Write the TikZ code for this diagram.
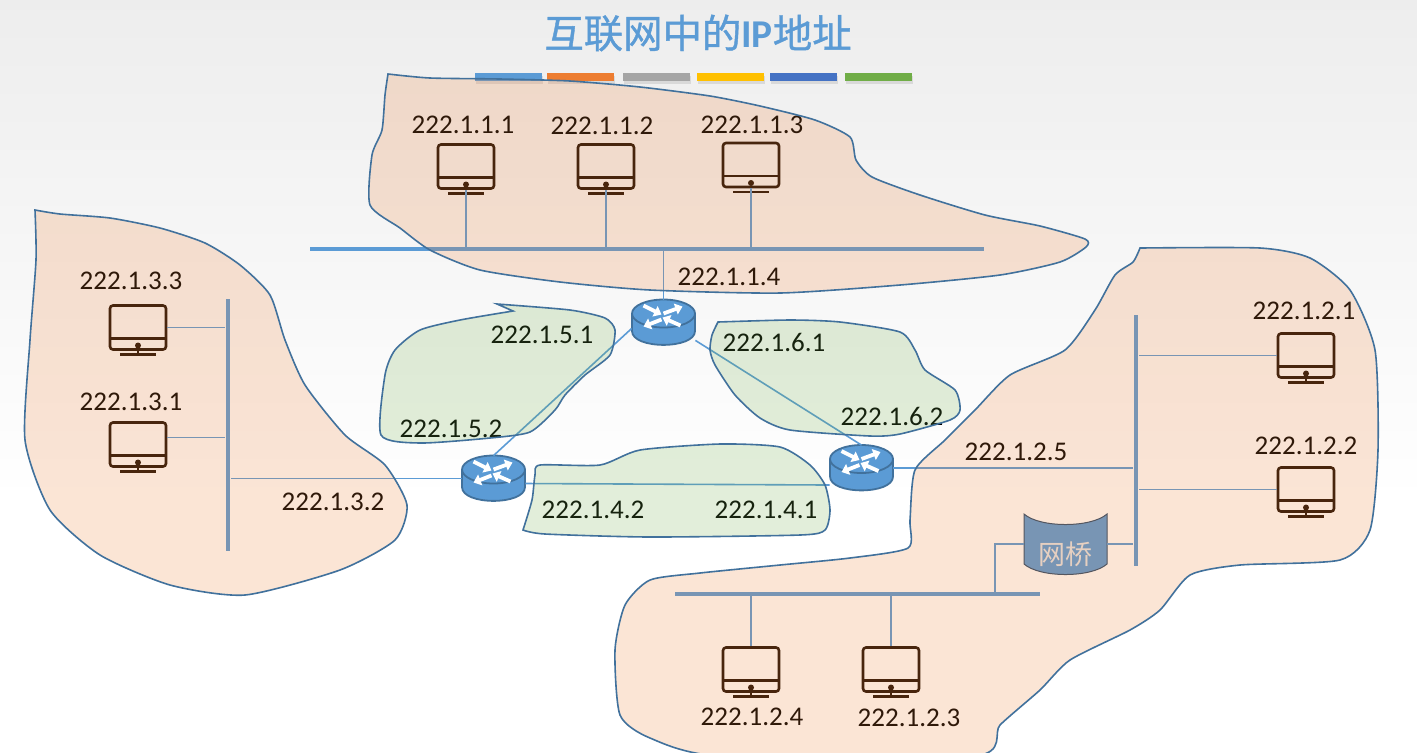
\documentclass[tikz,border=0pt]{standalone}
\usepackage{fontspec}
\setmainfont{Carlito}
\newfontfamily\cjkfont{Noto Sans CJK SC}
\newfontfamily\titlefont[FakeBold=1]{Noto Sans CJK SC}
\usetikzlibrary{arrows.meta,shadows}
\definecolor{linkblue}{HTML}{5B9BD5}
\definecolor{edgeblue}{HTML}{41719C}
\definecolor{pcbrown}{HTML}{1F0F04}
\definecolor{netorange}{HTML}{ED7D31}
\definecolor{netgreen}{HTML}{70AD47}
\definecolor{bargray}{HTML}{A5A5A5}
\definecolor{baryellow}{HTML}{FFC000}
\definecolor{barblue}{HTML}{4472C4}
\tikzset{
  addr/.style={font=\fontsize{13.5}{16}\selectfont, inner sep=0pt},
  link/.style={linkblue, line width=0.8pt},
  bus/.style={fill=linkblue, inner sep=0pt},
  colorbar/.style={minimum width=33.5pt, minimum height=4pt, inner sep=0pt, drop shadow={shadow xshift=0.4pt, shadow yshift=-1.5pt, opacity=0.2}},
  orangenet/.style={draw=edgeblue, line width=0.8pt, fill=netorange, fill opacity=0.2},
  greennet/.style={draw=edgeblue, line width=0.8pt, fill=netgreen, fill opacity=0.2},
  pcbox/.style={draw=pcbrown, line width=1.3pt, rounded corners=1.5pt, minimum width=28pt, minimum height=22pt, inner sep=0pt},
  rbox/.style={minimum width=31.5pt, minimum height=22.5pt, inner sep=0pt},
  rarrow/.style={white, line width=1.9pt, -{Triangle[length=3.6pt,width=5.6pt]}},
  pc/.pic={
    \node[pcbox] (-s) {};
    \draw[pcbrown, line width=1.2pt] (-28,11) -- (28,11);
    \fill[pcbrown] (0,18) circle (3);
    \draw[pcbrown, line width=1.2pt] (0,23) -- (0,27);
    \draw[pcbrown, line width=1.2pt] (-18,27) -- (18,27);
  },
  router/.pic={
    \node[rbox] (-r) {};
    \draw[fill=linkblue, draw=edgeblue, line width=0.9pt] (-31.5,-9) -- (-31.5,8.5) .. controls (-31.5,27) and (31.5,27) .. (31.5,8.5) -- (31.5,-9);
    \draw[fill=linkblue, draw=edgeblue, line width=0.9pt] (0,-9) ellipse [x radius=15.75pt, y radius=7pt];
    \draw[rarrow] (-20,-17) -- (-2,-8);
    \draw[rarrow] (0,-9) -- (19,-16);
    \draw[rarrow] (-2,-3) -- (-20,4);
    \draw[rarrow] (17,3) -- (-1,-5);
  },
}
\begin{document}
\begin{tikzpicture}[x=0.5pt, y=-0.5pt]
  \useasboundingbox (0,0) rectangle (1417,752);
  \fill[white] (0,0) rectangle (1417,752);
  \shade[top color=black!7, bottom color=white] (0,0) rectangle (1417,500);

  \node[font=\fontsize{19.7}{24}\selectfont, text=linkblue, inner sep=0pt] (title) at (698,33) {{\titlefont 互联网中的}{\bfseries IP}{\titlefont 地址}};
  \node[colorbar, fill=linkblue] (c1) at (508.5,77) {};
  \node[colorbar, fill=netorange] (c2) at (580.5,77) {};
  \node[colorbar, fill=bargray] (c3) at (656.5,77) {};
  \node[colorbar, fill=baryellow] (c4) at (730.5,77) {};
  \node[colorbar, fill=barblue] (c5) at (803.5,77) {};
  \node[colorbar, fill=netgreen] (c6) at (878.5,77) {};

  \node[bus, minimum width=337pt, minimum height=2pt] (bus1) at (647,249) {};
  \node[bus, minimum width=2.4pt, minimum height=125.5pt] (bus2) at (1136,440.5) {};
  \node[bus, minimum width=2.4pt, minimum height=126pt] (bus3) at (228,425) {};
  \node[bus, minimum width=182.5pt, minimum height=2pt] (bus4) at (857.5,594) {};
  \coordinate (tap) at (995,594);

  \pic (p111) at (466,166.5) {pc};
  \pic (p112) at (606,166.5) {pc};
  \pic (p113) at (751,165) {pc};
  \pic (p133) at (138,327.5) {pc};
  \pic (p131) at (138,444.5) {pc};
  \pic (p121) at (1306,355.5) {pc};
  \pic (p122) at (1306,489.5) {pc};
  \pic (p124) at (751,669.5) {pc};
  \pic (p123) at (891,669.5) {pc};

  \pic (r1) at (663.5,322.5) {router};
  \pic (r2) at (493.5,478.5) {router};
  \pic (r3) at (861.5,468) {router};

  \draw[fill=linkblue, draw=black!50!linkblue, line width=0.5pt] (1024,514) .. controls (1040,528) and (1091,528) .. (1107,514) -- (1107,564) .. controls (1091,578) and (1040,578) .. (1024,564) -- cycle;
  \node[minimum width=41.5pt, minimum height=30pt, inner sep=0pt] (br) at (1065.5,544) {};
  \node[font=\cjkfont\fontsize{13.5}{16}\selectfont, text=white!90!black, inner sep=0pt] (brtext) at (1065,554) {网桥};

  \draw[link] (p111-s.south) -- (p111-s.south |- bus1.north);
  \draw[link] (p112-s.south) -- (p112-s.south |- bus1.north);
  \draw[link] (p113-s.south) -- (p113-s.south |- bus1.north);
  \draw[link] (p133-s.east) -- (p133-s.east -| bus3.west);
  \draw[link] ([yshift=3.5pt]p131-s.east) -- ([yshift=3.5pt]p131-s.east -| bus3.west);
  \draw[link] (p121-s.west) -- (p121-s.west -| bus2.east);
  \draw[link] (p122-s.west) -- (p122-s.west -| bus2.east);
  \draw[link] (p124-s.north) -- (p124-s.north |- bus4.south);
  \draw[link] (p123-s.north) -- (p123-s.north |- bus4.south);
  \draw[link] (r1-r.north) -- (r1-r.north |- bus1.south);
  \draw[link] ([yshift=-3pt]r1-r.west) -- (r2-r.north);
  \draw[link] ([yshift=2.5pt]r1-r.south east) -- (r3-r.north);
  \draw[link] ([yshift=-2.5pt]r2-r.east) -- ([yshift=-8.5pt]r3-r.west);
  \draw[link] (r2-r.west) -- (r2-r.west -| bus3.east);
  \draw[link] (r3-r.east) -- (r3-r.east -| bus2.west);
  \draw[link] (br.west) -| (tap);
  \draw[link] (br.east) -- (br.east -| bus2.west);

  \node[addr] (a111) at (463,125) {222.1.1.1};
  \node[addr] (a112) at (602,126) {222.1.1.2};
  \node[addr] (a113) at (752,125) {222.1.1.3};
  \node[addr] (a114) at (729,277) {222.1.1.4};
  \node[addr] (a133) at (131,281) {222.1.3.3};
  \node[addr] (a131) at (131,402) {222.1.3.1};
  \node[addr] (a132) at (333,502) {222.1.3.2};
  \node[addr] (a151) at (542,335) {222.1.5.1};
  \node[addr] (a152) at (451,429) {222.1.5.2};
  \node[addr] (a161) at (774,342) {222.1.6.1};
  \node[addr] (a162) at (892,416) {222.1.6.2};
  \node[addr] (a142) at (593,510) {222.1.4.2};
  \node[addr] (a141) at (766,510) {222.1.4.1};
  \node[addr] (a125) at (1016,452) {222.1.2.5};
  \node[addr] (a121) at (1304,311) {222.1.2.1};
  \node[addr] (a122) at (1306,446) {222.1.2.2};
  \node[addr] (a124) at (752,717) {222.1.2.4};
  \node[addr] (a123) at (909,718) {222.1.2.3};

  \draw[orangenet] plot[smooth, tension=0.4] coordinates {(388,74) (430,78) (500,79) (570,81) (640,87) (710,96) (760,106) (815,120) (850,137) (856,160) (872,177) (920,195) (985,215) (1040,226) (1085,239) (1086,247) (1060,262) (1000,275) (900,285) (780,293) (650,290) (560,282) (480,270) (430,250) (400,228) (370,205) (372,155) (382,130) (385,95) (388,74)} -- cycle;
  \draw[orangenet] plot[smooth, tension=0.4] coordinates {(35,210) (60,214) (110,218) (160,228) (205,243) (240,265) (270,295) (285,340) (305,385) (345,435) (385,465) (407,505) (395,540) (340,570) (245,595) (170,585) (100,555) (50,510) (25,440) (30,340) (36,260) (35,210)} -- cycle;
  \draw[orangenet] plot[smooth, tension=0.4] coordinates {(1140,248) (1260,248) (1310,258) (1350,290) (1375,350) (1378,450) (1370,530) (1340,560) (1240,565) (1190,575) (1160,610) (1130,630) (1070,660) (1040,690) (1000,725) (975,756) (720,756) (650,738) (620,715) (615,650) (625,605) (650,580) (700,573) (780,565) (850,558) (908,548) (910,520) (915,470) (945,440) (975,410) (1010,375) (1065,350) (1095,310) (1115,275) (1133,262) (1140,248)} -- cycle;
  \draw[greennet] plot[smooth, tension=0.4] coordinates {(497,304) (570,310) (605,318) (615,330) (610,355) (585,375) (565,395) (555,410) (530,432) (490,438) (420,443) (381,435) (385,375) (395,350) (420,330) (460,320) (513,311)} -- cycle;
  \draw[greennet] plot[smooth, tension=0.4] coordinates {(718,322) (790,320) (840,322) (900,332) (915,350) (925,370) (955,390) (960,410) (950,420) (900,434) (870,436) (790,430) (760,418) (735,395) (715,365) (710,350) (712,335) (718,322)} -- cycle;
  \draw[greennet] plot[smooth, tension=0.4] coordinates {(523,530) (532,500) (535,475) (540,465) (600,465) (640,450) (720,444) (780,447) (810,465) (825,485) (830,510) (825,530) (800,535) (650,537) (545,534) (523,530)} -- cycle;
\end{tikzpicture}
\end{document}
